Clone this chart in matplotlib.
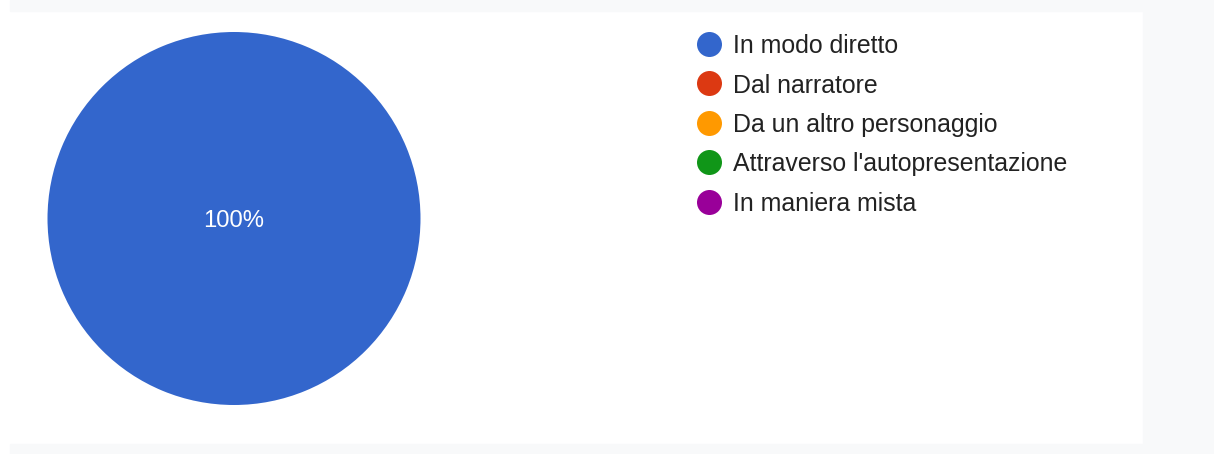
import matplotlib.pyplot as plt
from matplotlib.patches import Rectangle

categories = ["In modo diretto", "Dal narratore", "Da un altro personaggio",
              "Attraverso l'autopresentazione", "In maniera mista"]
shares = [100, 0, 0, 0, 0]
colors = ["#3366cc", "#dc3912", "#ff9900", "#109618", "#990099"]

plt.rcParams['font.family'] = ['Liberation Sans', 'DejaVu Sans']

W, H = 1214, 454
fig = plt.figure(figsize=(W / 100, H / 100), dpi=100)
fig.patch.set_facecolor("white")

# light grey page frame around the white card
grey = "#f8f9fa"
fig.patches.append(Rectangle((10 / W, 0), 1 - 10 / W, 10 / H, transform=fig.transFigure,
                             color=grey, zorder=-1))
fig.patches.append(Rectangle((10 / W, 1 - 11 / H), 1 - 10 / W, 11 / H, transform=fig.transFigure,
                             color=grey, zorder=-1))
fig.patches.append(Rectangle((1143 / W, 0), 1 - 1143 / W, 1, transform=fig.transFigure,
                             color=grey, zorder=-1))

# pie
cx, cy, r = 234, 218.5, 186.5
ax = fig.add_axes([(cx - r) / W, (H - cy - r) / H, 2 * r / W, 2 * r / H])
wedges, texts, autotexts = ax.pie(
    shares, colors=colors, startangle=90, counterclock=False, radius=1,
    autopct=lambda p: f"{p:.0f}%" if p > 0 else "", pctdistance=0,
    textprops=dict(color="white", fontsize=17.2),
    wedgeprops=dict(linewidth=0))
for t in autotexts:
    t.set_va("center_baseline")
ax.set_xlim(-1, 1)
ax.set_ylim(-1, 1)
ax.set_aspect("auto")
ax.axis("off")

# legend drawn in pixel space
lax = fig.add_axes([0, 0, 1, 1], facecolor="none")
lax.set_xlim(0, W)
lax.set_ylim(H, 0)
lax.axis("off")
y0, step = 44, 39.4
for i, (name, col) in enumerate(zip(categories, colors)):
    y = y0 + i * step
    lax.plot(709, y, "o", color=col, markersize=18, markeredgewidth=0)
    lax.text(733, y + 9.3, name, fontsize=17.9, color="#222222", va="baseline", ha="left")

fig.savefig("out.png", dpi=100, facecolor=fig.get_facecolor())
